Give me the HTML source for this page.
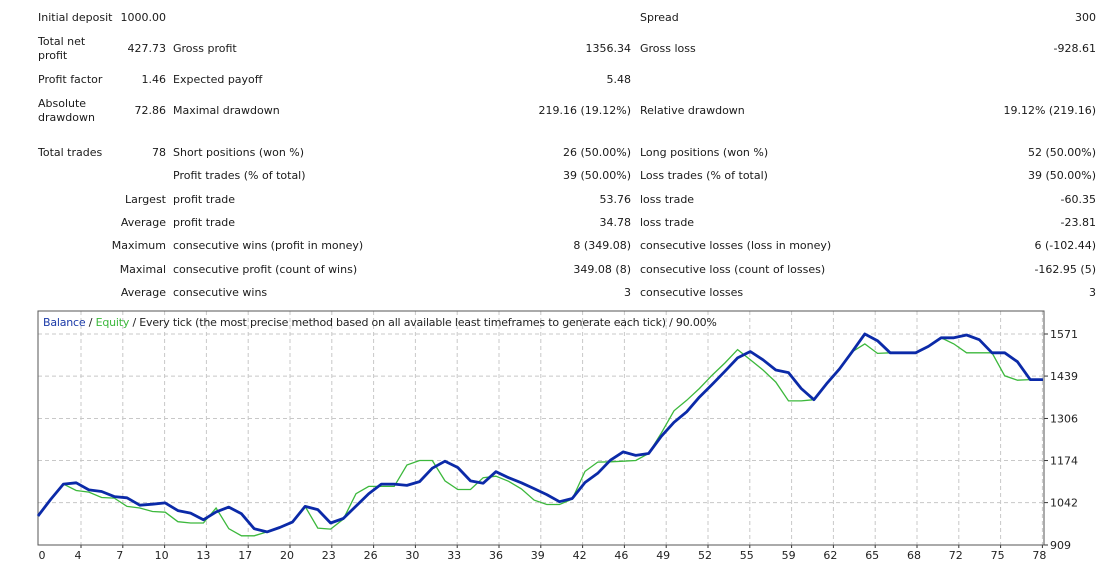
<!DOCTYPE html>
<html><head><meta charset="utf-8"><style>
body{margin:0;background:#fff;width:1119px;height:569px;overflow:hidden;position:relative;font-family:"DejaVu Sans","Liberation Sans",sans-serif;font-size:11px;color:#1a1a1a}
.t{position:absolute;white-space:nowrap;line-height:14px}
.r{text-align:right}
</style></head><body>
<div id="tbl"></div>
<svg id="chart" width="1119" height="569" style="position:absolute;left:0;top:0" font-family="DejaVu Sans, Liberation Sans, sans-serif" font-size="11"></svg>
<script>
var rows=[
[18,"Initial deposit","1000.00","","","Spread","300"],
[49,"Total net\nprofit","427.73","Gross profit","1356.34","Gross loss","-928.61"],
[80,"Profit factor","1.46","Expected payoff","5.48","",""],
[111,"Absolute\ndrawdown","72.86","Maximal drawdown","219.16 (19.12%)","Relative drawdown","19.12% (219.16)"],
[153,"Total trades","78","Short positions (won %)","26 (50.00%)","Long positions (won %)","52 (50.00%)"],
[176,"","","Profit trades (% of total)","39 (50.00%)","Loss trades (% of total)","39 (50.00%)"],
[200,"","Largest","profit trade","53.76","loss trade","-60.35"],
[223,"","Average","profit trade","34.78","loss trade","-23.81"],
[246,"","Maximum","consecutive wins (profit in money)","8 (349.08)","consecutive losses (loss in money)","6 (-102.44)"],
[270,"","Maximal","consecutive profit (count of wins)","349.08 (8)","consecutive loss (count of losses)","-162.95 (5)"],
[293,"","Average","consecutive wins","3","consecutive losses","3"]];
var tbl=document.getElementById('tbl');
function txt(s,x,y,right,w){var d=document.createElement('div');d.className='t'+(right?' r':'');


var lines=s.split('\n');d.innerHTML=lines.join('<br>');
var top=y-7*lines.length;d.style.top=top+'px';
if(right){d.style.left=(x-w)+'px';d.style.width=w+'px';}else d.style.left=x+'px';
tbl.appendChild(d);}
rows.forEach(function(r){var y=r[0];
if(r[1])txt(r[1],38,y,false);
if(r[2])txt(r[2],166,y,true,130);
if(r[3])txt(r[3],173,y,false);
if(r[4])txt(r[4],631,y,true,200);
if(r[5])txt(r[5],640,y,false);
if(r[6])txt(r[6],1096,y,true,200);});
</script>
<script>
var balance=[1000,1052,1100,1104,1082,1077,1061,1057,1034,1037,1041,1017,1009,988,1013,1028,1007,960,950,964,981,1030,1020,978,992,1031,1070,1100,1100,1096,1108,1150,1172,1152,1110,1103,1139,1120,1104,1086,1067,1045,1055,1105,1134,1175,1201,1190,1196,1250,1294,1327,1373,1413,1454,1496,1516,1490,1458,1450,1400,1365,1415,1461,1515,1571,1550,1512,1512,1512,1532,1559,1559,1568,1553,1512,1512,1484,1428];
var equity=[1000,1052,1100,1080,1075,1058,1056,1030,1025,1014,1012,982,978,978,1025,960,938,938,950,964,981,1030,962,959,990,1070,1093,1093,1093,1160,1174,1174,1110,1083,1083,1120,1125,1109,1085,1050,1036,1036,1053,1140,1169,1170,1172,1174,1196,1260,1330,1363,1400,1442,1480,1522,1490,1458,1420,1361,1361,1365,1415,1461,1515,1540,1510,1512,1512,1512,1532,1559,1540,1512,1512,1512,1440,1426,1428];
var yTicks=[909,1042,1174,1306,1439,1571];
var xTickLabels=["4","7","10","13","17","20","23","26","30","33","36","39","42","46","49","52","55","59","62","65","68","72","75","78"];
var svg=document.getElementById('chart'),NS='http://www.w3.org/2000/svg';
var L=38,R=1044,T=311,B=545,VMIN=909,VMAX=1571;
function X(i){return L+i*12.72;}
function Y(v){return B-(v-VMIN)*(B-334)/(VMAX-VMIN);}
function el(tag,attrs,name){var e=document.createElementNS(NS,tag);for(var k in attrs)e.setAttribute(k,attrs[k]);


svg.appendChild(e);return e;}
yTicks.forEach(function(v){var y=Y(v);
if(v!==VMIN)el('line',{x1:L,x2:R,y1:y,y2:y,stroke:'#c8c8c8','stroke-dasharray':'4,3'},'h-gridline');
el('line',{x1:R,x2:R+4,y1:y,y2:y,stroke:'#333'},'y-tick');
var t=el('text',{x:R+6,y:y+4,fill:'#222'},'y-tick-label');t.textContent=v;});
xTickLabels.forEach(function(s,k){var x=81+41.8*k;
el('line',{x1:x,x2:x,y1:T,y2:B,stroke:'#c8c8c8','stroke-dasharray':'4,3'},'v-gridline');
el('line',{x1:x,x2:x,y1:B,y2:B+3,stroke:'#333'},'x-tick');
var t=el('text',{x:x-3,y:559,fill:'#222','text-anchor':'middle'},'x-tick-label');t.textContent=s;});
var t0=el('text',{x:42,y:559,fill:'#222','text-anchor':'middle'},'x-tick-label');t0.textContent='0';
el('rect',{x:L,y:T,width:R-L,height:B-T,fill:'none',stroke:'#555'},'plot-frame');
function path(arr){var d='';arr.forEach(function(v,i){d+=(i?'L':'M')+X(i).toFixed(1)+','+Y(v).toFixed(1);});
d+='L'+(R-1)+','+Y(arr[arr.length-1]).toFixed(1);return d;}
el('path',{d:path(equity),fill:'none',stroke:'#3cb83c','stroke-width':1.3},'equity-line');
el('path',{d:path(balance),fill:'none',stroke:'#0b2aa8','stroke-width':2.8,'stroke-linejoin':'round'},'balance-line');
var tt=el('text',{x:43,y:326,'letter-spacing':'-0.2'},'chart-title');
tt.innerHTML='<tspan fill="#1b3aa8">Balance</tspan><tspan fill="#222"> / </tspan><tspan fill="#3cb83c">Equity</tspan><tspan fill="#222"> / Every tick (the most precise method based on all available least timeframes to generate each tick) / 90.00%</tspan>';
</script>
</body></html>
